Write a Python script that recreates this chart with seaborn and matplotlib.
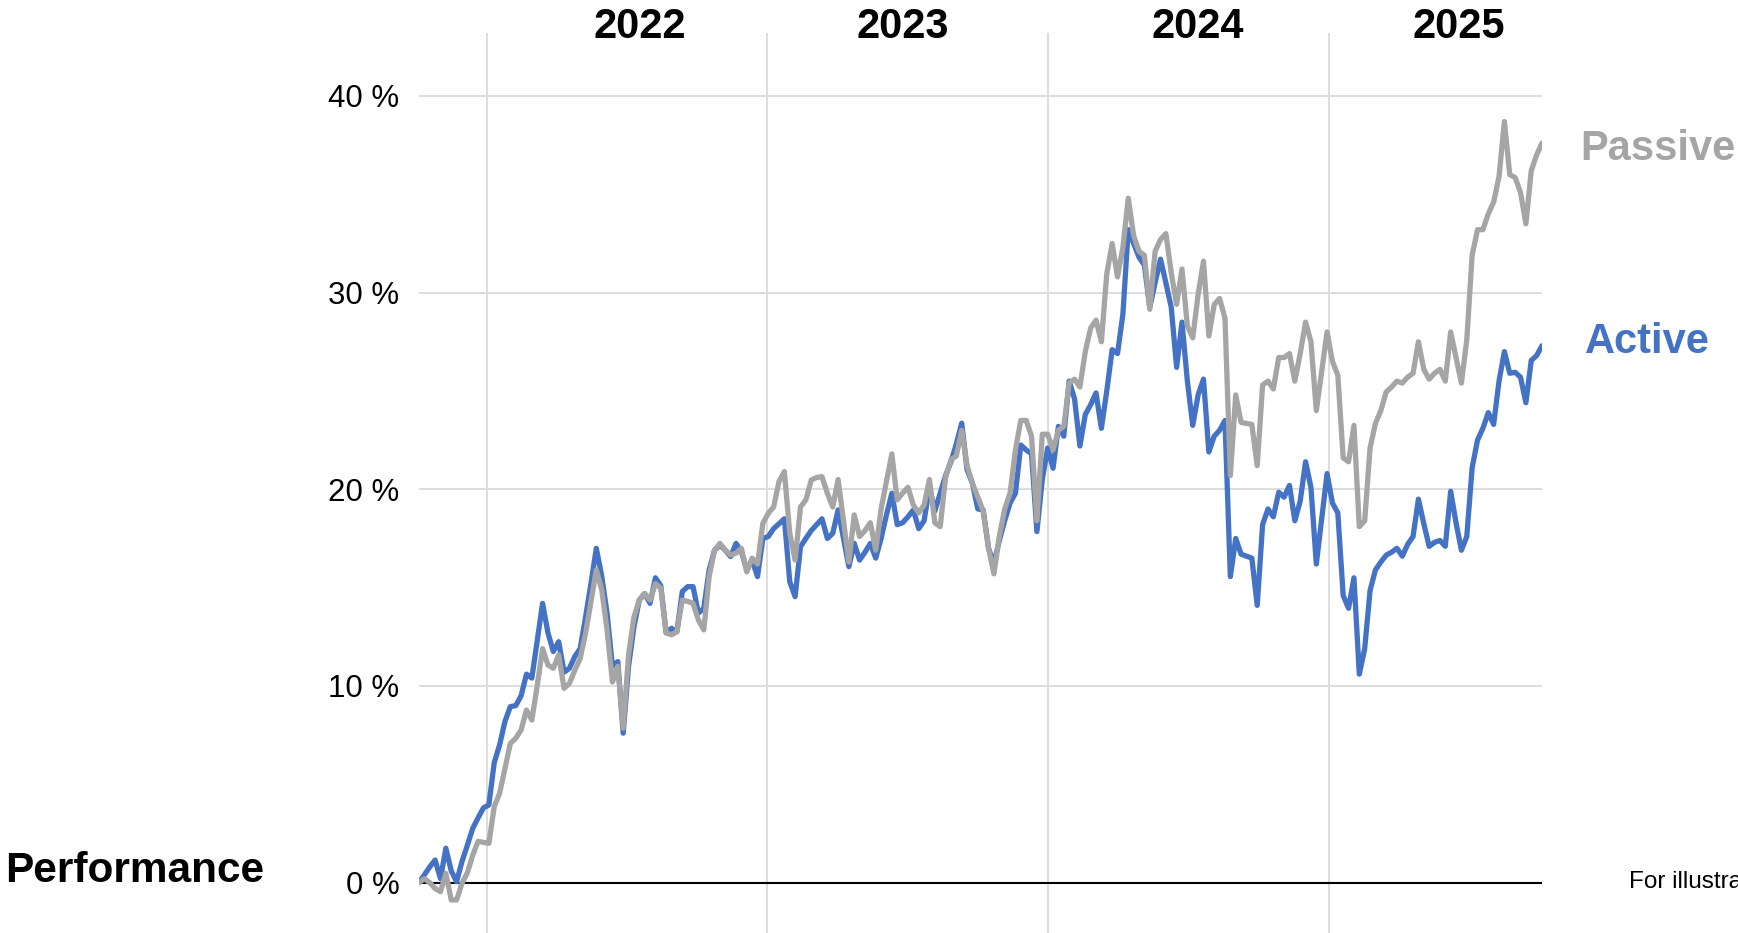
import numpy as np
import pandas as pd
import matplotlib
matplotlib.use("Agg")
import matplotlib.pyplot as plt
import matplotlib.transforms as mtransforms
from matplotlib.ticker import FuncFormatter
import seaborn as sns

# Weekly cumulative performance (%), starting early October 2021
start_date = "2021-10-04"

active = [
    0.0, 0.4, 0.8, 1.15, 0.2, 1.75, 0.6, 0.05, 1.07, 1.9,
    2.76, 3.3, 3.8, 3.95, 6.1, 7.0, 8.2, 8.95, 9.0, 9.5,
    10.6, 10.4, 12.3, 14.2, 12.7, 11.75, 12.25, 10.7, 10.9, 11.5,
    11.9, 13.5, 15.2, 17.0, 15.6, 13.7, 11.0, 11.24, 7.6, 11.0,
    13.0, 14.37, 14.7, 14.2, 15.5, 15.1, 12.7, 12.93, 12.76, 14.8,
    15.05, 15.05, 13.7, 13.95, 15.9, 16.9, 17.17, 16.9, 16.58, 17.25,
    16.83, 15.9, 16.4, 15.56, 17.5, 17.6, 18.0, 18.25, 18.5, 15.3,
    14.54, 17.08, 17.5, 17.9, 18.2, 18.5, 17.5, 17.76, 18.95, 17.5,
    16.07, 17.25, 16.4, 16.8, 17.25, 16.5, 17.5, 18.7, 19.8, 18.2,
    18.3, 18.6, 18.95, 18.0, 18.4, 20.1, 18.9, 19.8, 20.7, 21.4,
    22.3, 23.36, 21.0, 20.3, 19.0, 18.95, 17.0, 16.2, 17.4, 18.4,
    19.3, 19.8, 22.25, 22.0, 21.8, 17.85, 20.5, 22.1, 21.07, 23.2,
    22.7, 25.5, 24.6, 22.2, 23.8, 24.3, 24.9, 23.1, 25.0, 27.1,
    26.9, 28.9, 33.2, 32.5, 31.8, 31.4, 29.25, 30.5, 31.7, 30.5,
    29.25, 26.2, 28.5, 25.5, 23.25, 24.8, 25.6, 21.9, 22.7, 23.0,
    23.5, 15.56, 17.5, 16.7, 16.6, 16.5, 14.1, 18.2, 19.0, 18.6,
    19.85, 19.6, 20.2, 18.4, 19.4, 21.4, 20.1, 16.2, 18.5, 20.8,
    19.3, 18.8, 14.6, 13.95, 15.5, 10.6, 11.9, 14.85, 15.9, 16.3,
    16.65, 16.8, 17.0, 16.6, 17.2, 17.6, 19.5, 18.25, 17.1, 17.3,
    17.4, 17.1, 19.9, 18.3, 16.9, 17.6, 21.1, 22.5, 23.1, 23.9,
    23.3, 25.5, 27.0, 25.9, 25.95, 25.7, 24.4, 26.55, 26.8, 27.3,
]

passive = [
    0.0, 0.2, 0.0, -0.3, -0.46, 0.47, -0.88, -0.88, -0.03, 0.5,
    1.4, 2.1, 2.05, 2.0, 3.86, 4.54, 5.8, 7.08, 7.34, 7.76,
    8.78, 8.27, 10.0, 11.9, 11.07, 10.9, 11.58, 9.88, 10.14, 10.8,
    11.4, 12.68, 14.3, 15.9, 14.9, 12.85, 10.2, 11.0, 7.85, 11.58,
    13.5, 14.37, 14.7, 14.37, 15.2, 14.98, 12.7, 12.6, 12.76, 14.37,
    14.3, 14.2, 13.36, 12.85, 15.56, 16.9, 17.25, 16.9, 16.66, 16.75,
    17.0, 15.8, 16.5, 16.2, 18.27, 18.78, 19.1, 20.4, 20.9, 17.76,
    16.4, 19.1, 19.46, 20.47, 20.6, 20.64, 19.8, 19.1, 20.5, 18.4,
    16.3, 18.7, 17.6, 17.9, 18.3, 16.9, 19.0, 20.4, 21.8, 19.46,
    19.8, 20.1, 19.2, 18.8, 19.2, 20.5, 18.3, 18.1, 20.6, 21.5,
    21.7, 23.0, 21.2, 20.3, 19.6, 18.9, 17.0, 15.7, 17.6, 19.0,
    19.8, 22.0, 23.5, 23.5, 22.7, 18.4, 22.8, 22.8, 22.0, 23.0,
    23.2, 25.4, 25.6, 25.2, 27.0, 28.2, 28.6, 27.5, 30.95, 32.5,
    30.8, 32.3, 34.8, 32.9, 32.1, 31.9, 29.15, 32.1, 32.7, 33.0,
    31.0, 29.4, 31.2, 28.3, 27.7, 29.9, 31.6, 27.8, 29.4, 29.7,
    28.7, 20.7, 24.8, 23.4, 23.35, 23.3, 21.2, 25.3, 25.5, 25.1,
    26.7, 26.7, 26.9, 25.5, 26.9, 28.5, 27.5, 24.0, 26.0, 28.0,
    26.5, 25.8, 21.6, 21.4, 23.25, 18.1, 18.4, 22.1, 23.35, 24.0,
    24.95, 25.2, 25.5, 25.4, 25.7, 25.9, 27.5, 26.1, 25.6, 25.9,
    26.1, 25.5, 28.0, 26.7, 25.4, 27.6, 31.9, 33.2, 33.2, 34.0,
    34.6, 35.9, 38.7, 36.0, 35.85, 35.1, 33.5, 36.2, 37.0, 37.6,
]

series_names = ["Active", "Passive"]
series_colors = {"Active": "#4472C4", "Passive": "#A5A5A5"}
year_labels = ["2022", "2023", "2024", "2025"]
y_ticks = [0, 10, 20, 30, 40]
title_text = "Performance"
note_text = "For illustrative purposes only"

n = len(active)
dates = pd.date_range(start_date, periods=n, freq="7D")
df = pd.DataFrame({
    "date": list(dates) + list(dates),
    "value": active + passive,
    "series": [series_names[0]] * n + [series_names[1]] * n,
})

sns.set_style("white")
plt.rcParams["font.family"] = ["Liberation Sans", "DejaVu Sans"]

W, H = 1738, 933
fig = plt.figure(figsize=(W / 100, H / 100), dpi=100)
ax = fig.add_axes([419 / W, 0.0, (1542 - 419) / W, 1 - 33 / H])

sns.lineplot(
    data=df, x="date", y="value", hue="series",
    hue_order=series_names, palette=series_colors,
    linewidth=3.8, legend=False, estimator=None, ax=ax, zorder=3,
)

ax.set_xlim(dates[0], dates[-1])
ax.set_ylim(-2.56, 43.2)

# Year boundaries as vertical grid lines
year_starts = pd.to_datetime([f"{y}-01-01" for y in year_labels])
ax.set_xticks(year_starts)
ax.tick_params(axis="x", length=0, labelbottom=False)

ax.set_yticks(y_ticks)
ax.yaxis.set_major_formatter(FuncFormatter(lambda v, _: f"{v:.0f} %"))
ax.tick_params(axis="y", length=0, pad=14, labelsize=22.5, labelcolor="black")

ax.grid(True, color="#dddddd", linewidth=1.4, zorder=0)
ax.axhline(0, color="black", linewidth=1.5, zorder=2)

for s in ax.spines.values():
    s.set_visible(False)
ax.set_xlabel("")
ax.set_ylabel("")

# Year headers across the top
label_dates = pd.to_datetime(["2022-07-19", "2023-06-26", "2024-07-14", "2025-06-19"])
trans = mtransforms.blended_transform_factory(ax.transData, fig.transFigure)
for d, lab in zip(label_dates, year_labels):
    ax.text(d, 1 - 38 / H, lab, transform=trans, ha="center", va="baseline",
            fontsize=30, fontweight="bold", color="black", clip_on=False)

# Series names at the right end of the lines
fig.text(1580 / W, 1 - 160 / H, series_names[1], ha="left", va="baseline",
         fontsize=30, fontweight="bold", color=series_colors["Passive"])
fig.text(1585 / W, 1 - 353 / H, series_names[0], ha="left", va="baseline",
         fontsize=30, fontweight="bold", color=series_colors["Active"])

fig.text(5 / W, 1 - 882 / H, title_text, ha="left", va="baseline",
         fontsize=30.5, fontweight="bold", color="black")
# Footnote runs past the right edge of the canvas
fig.text(1629 / W, 1 - 888 / H, note_text, ha="left", va="baseline",
         fontsize=17.5, color="black")

fig.savefig("out.png", dpi=100)
